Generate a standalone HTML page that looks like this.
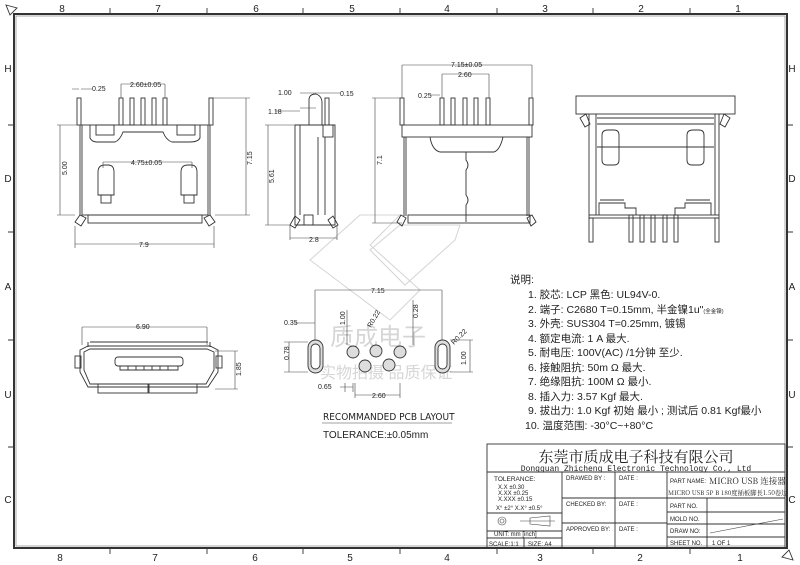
<!DOCTYPE html>
<html><head><meta charset="utf-8"><style>
html,body{margin:0;padding:0;background:#fff;}
svg{display:block;}
text{font-family:"Liberation Sans","Noto Sans CJK SC",sans-serif;fill:#222;}
.s{fill:none;stroke:#333;stroke-width:0.9;}
.t{fill:none;stroke:#444;stroke-width:0.6;}
.d{font-size:7px;}
.n{font-size:10.5px;}
.c{font-size:8px;}
</style></head><body>
<svg width="800" height="565" viewBox="0 0 800 565" xmlns="http://www.w3.org/2000/svg">
<rect x="14" y="14" width="773" height="534" fill="none" stroke="#333" stroke-width="2"/>
<rect x="16" y="16" width="769" height="530" fill="none" stroke="#888" stroke-width="0.7"/>
<path d="M6 5 L17 8 L10 15 Z M793 560 L782 557 L789 550 Z" class="s"/>
<g class="s">
<path d="M110 8V14 M207 8V14 M303 8V14 M400 8V14 M497 8V14 M593 8V14 M690 8V14"/>
<path d="M110 548V554 M207 548V554 M303 548V554 M400 548V554 M497 548V554 M593 548V554 M690 548V554"/>
<path d="M8 125H14 M8 232H14 M8 340H14 M8 447H14 M787 125H793 M787 232H793 M787 340H793 M787 447H793"/>
</g>
<g font-size="10" text-anchor="middle">
<text x="62" y="12">8</text><text x="158" y="12">7</text><text x="256" y="12">6</text><text x="352" y="12">5</text><text x="447" y="12">4</text><text x="545" y="12">3</text><text x="641" y="12">2</text><text x="738" y="12">1</text>
<text x="60" y="561">8</text><text x="155" y="561">7</text><text x="255" y="561">6</text><text x="350" y="561">5</text><text x="447" y="561">4</text><text x="540" y="561">3</text><text x="640" y="561">2</text><text x="740" y="561">1</text>
<text x="8" y="72">H</text><text x="8" y="182">D</text><text x="8" y="290">A</text><text x="8" y="398">U</text><text x="8" y="503">C</text>
<text x="792" y="72">H</text><text x="792" y="182">D</text><text x="792" y="290">A</text><text x="792" y="398">U</text><text x="792" y="503">C</text>
</g>

<!-- watermark -->
<g stroke="#d4d4d4" stroke-width="1" fill="none">
<path d="M310 260 L360 215 L400 215 L370 245 L420 290 L390 320 Z"/>
<path d="M370 250 L400 225 L460 225 L455 240 L405 285 Z"/>
</g>
<text x="330" y="345" font-size="24" style="fill:#d6d6d6">质成电子</text>
<text x="320" y="378" font-size="16" style="fill:#d6d6d6">实物拍摄 品质保证</text>

<!-- view 1 front -->
<g class="s">
<rect x="82" y="125" width="126" height="90"/>
<path d="M80 125V215 M210 125V215"/>
<rect x="77" y="98" width="4" height="27"/><rect x="209" y="98" width="4" height="27"/>
<rect x="119" y="98" width="4" height="27"/><rect x="130" y="98" width="4" height="27"/><rect x="141" y="98" width="4" height="27"/><rect x="152" y="98" width="4" height="27"/><rect x="163" y="98" width="4" height="27"/>
<path d="M90 125V138Q92 142 97 142H115Q120 140 123 132H163Q166 140 172 142H190Q198 142 200 138V125"/>
<rect x="96" y="125" width="18" height="10"/><rect x="177" y="125" width="18" height="10"/>
<path d="M98 195V172Q98 165 105 165H108Q114 165 114 172V195Z M181 195V172Q181 165 188 165H191Q197 165 197 172V195Z"/>
<rect x="101" y="195" width="10" height="8"/><rect x="184" y="195" width="10" height="8"/>
<rect x="88" y="215" width="114" height="8"/>
<path d="M75 222L80 215L86 218L81 226Z M215 222L210 215L204 218L209 226Z"/>
</g>
<g class="t">
<path d="M75 244H214 M75 226V248 M214 226V248 M60 125V215 M57 125H80 M57 215H75 M246 98V215 M213 98H250 M215 215H250 M121 84H165 M121 84V98 M165 84V98 M103 162H192 M103 162V168 M192 162V168 M72 89H79 M81 89H92"/>
</g>
<text class="d" x="130" y="87">2.60±0.05</text>
<text class="d" x="92" y="91">0.25</text>
<text class="d" x="131" y="165">4.75±0.05</text>
<text class="d" x="139" y="247">7.9</text>
<text class="d" transform="translate(67,175) rotate(-90)">5.00</text>
<text class="d" transform="translate(252,165) rotate(-90)">7.15</text>

<!-- view 2 side -->
<g class="s">
<path d="M295 125H335V225H295Z M300 125V215 M318 137V215 M325 137V215"/>
<path d="M309 125V100Q309 94 316 94Q322 96 322 103V125"/>
<rect x="325" y="98" width="4" height="27"/><rect x="323" y="125" width="10" height="12"/>
<rect x="304" y="215" width="9" height="10"/>
<path d="M290 225L295 216L300 220L295 228Z M338 225L333 216L328 220L333 228Z"/>
</g>
<g class="t">
<path d="M290 238H337 M290 225V240 M337 225V240 M268 125V225 M265 125H295 M265 225H290 M300 93H328 M300 108H316 M326 93H340 M275 111H300"/>
</g>
<text class="d" x="278" y="95">1.00</text><text class="d" x="340" y="96">0.15</text><text class="d" x="268" y="114">1.18</text>
<text class="d" x="309" y="242">2.8</text>
<text class="d" transform="translate(274,183) rotate(-90)">5.61</text>

<!-- view 3 -->
<g class="s">
<rect x="402" y="125" width="130" height="12"/>
<path d="M404 137V216 M529 137V216 M406 137V216 M527 137V216"/>
<rect x="400" y="98" width="4" height="27"/><rect x="529" y="98" width="4" height="27"/>
<rect x="440" y="98" width="4" height="27"/><rect x="451" y="98" width="4" height="27"/><rect x="463" y="98" width="4" height="27"/><rect x="474" y="98" width="4" height="27"/><rect x="486" y="98" width="4" height="27"/>
<path d="M430 137Q432 150 440 152H494Q500 150 503 137"/>
<path d="M466 152V160Q470 165 466 170V195Q470 200 466 205V222"/>
<rect x="408" y="215" width="122" height="8"/>
<path d="M397 222L401 215L406 218L402 226Z M536 222L532 215L527 218L531 226Z"/>
</g>
<g class="t">
<path d="M402 65H532 M402 65V98 M532 65V98 M442 74H489 M442 74V98 M489 74V98 M375 98V223 M372 98H402 M372 223H402 M430 95H440"/>
</g>
<text class="d" x="451" y="67">7.15±0.05</text><text class="d" x="458" y="77">2.60</text><text class="d" x="418" y="98">0.25</text>
<text class="d" transform="translate(382,165) rotate(-90)">7.1</text>

<!-- view 4 -->
<g class="s">
<rect x="576" y="96" width="159" height="18"/>
<path d="M589 114V215 M719 114V215 M596 114V215 M715 114V215 M597 118H714 M597 124H714 M597 147H714"/>
<path d="M580 118L586 114L590 124L585 127Z M730 118L724 114L720 124L725 127Z"/>
<path d="M602 135Q602 130 608 130H614Q619 130 619 135V160Q619 165 614 165H607Q602 165 602 160Z M687 135Q687 130 693 130H699Q704 130 704 135V160Q704 165 699 165H692Q687 165 687 160Z"/>
<path d="M599 215V203H625V208H636V215 M711 215V203H685V208H675V215"/>
<path d="M600 200H624 M686 200H710"/>
<rect x="589" y="215" width="130" height="3"/>
<rect x="589" y="218" width="4" height="24"/><rect x="715" y="218" width="4" height="24"/>
<rect x="629" y="215" width="4" height="27"/><rect x="640" y="215" width="4" height="27"/><rect x="651" y="215" width="4" height="27"/><rect x="663" y="215" width="4" height="27"/><rect x="674" y="215" width="4" height="27"/>
</g>

<!-- view 5 end -->
<g class="s">
<path d="M90 342H208 M88 342V347 M210 342V347"/>
<path d="M80 350L88 346H210L218 350V372L208 387H88L80 372Z"/>
<path d="M84 352L90 349H207L214 352V370L206 384H90L84 370Z"/>
<rect x="75" y="356" width="6" height="12"/><rect x="216" y="356" width="6" height="12"/>
<rect x="98" y="384" width="50" height="9"/><rect x="149" y="384" width="48" height="9"/>
<rect x="115" y="357" width="68" height="9" rx="3"/>
<path d="M120 366V370H178V366 M128 366V370 M136 366V370 M144 366V370 M152 366V370 M160 366V370 M168 366V370"/>
</g>
<g class="t"><path d="M82 327H207 M82 327V345 M207 327V345 M235 351V389 M215 351H238 M215 389H238"/></g>
<text class="d" x="136" y="329">6.90</text>
<text class="d" transform="translate(241,376) rotate(-90)">1.85</text>

<!-- PCB -->
<g class="s">
<rect x="308" y="340" width="15" height="33" rx="7.5" style="fill:#ddd"/>
<rect x="311" y="344" width="9" height="25" rx="4.5" style="fill:#fff"/>
<rect x="435" y="340" width="15" height="33" rx="7.5" style="fill:#ddd"/>
<rect x="438" y="344" width="9" height="25" rx="4.5" style="fill:#fff"/>
<circle cx="353" cy="352" r="6" style="fill:#ddd"/><circle cx="376" cy="351" r="6" style="fill:#ddd"/><circle cx="400" cy="352" r="6" style="fill:#ddd"/>
<circle cx="365" cy="366" r="6" style="fill:#ddd"/><circle cx="389" cy="365" r="6" style="fill:#ddd"/>
</g>
<g class="t">
<path d="M315 290H442 M315 290V340 M442 290V340 M295 323H315 M284 342H308 M284 372H308 M289 342V372 M340 387H353 M345 383V392 M353 383V392 M355 395H400 M355 383V398 M400 383V398 M413 300V345 M347 310V345 M470 340V372 M450 340H473 M450 372H473"/>
</g>
<text class="d" x="371" y="293">7.15</text>
<text class="d" x="284" y="325">0.35</text>
<text class="d" transform="translate(289,360) rotate(-90)">0.78</text>
<text class="d" x="318" y="389">0.65</text>
<text class="d" x="372" y="398">2.60</text>
<text class="d" transform="translate(345,325) rotate(-90)">1.00</text>
<text class="d" transform="translate(371,328) rotate(-60)">R0.22</text>
<text class="d" transform="translate(418,318) rotate(-90)">0.28</text>
<text class="d" transform="translate(454,345) rotate(-45)">R0.22</text>
<text class="d" transform="translate(466,365) rotate(-90)">1.00</text>
<text x="323" y="420" font-size="10" style="font-family:'DejaVu Sans Condensed','Liberation Sans',sans-serif">RECOMMANDED  PCB  LAYOUT</text>
<path d="M322 423H452" class="t"/>
<text x="323" y="438" font-size="10">TOLERANCE:±0.05mm</text>

<!-- notes -->
<g class="n">
<text x="510" y="283">说明:</text>
<text x="528" y="298">1. 胶芯:  LCP   黑色: UL94V-0.</text>
<text x="528" y="313">2. 端子:  C2680  T=0.15mm, 半金镍1u"<tspan font-size="5.5">(全金镍)</tspan></text>
<text x="528" y="327">3. 外壳:  SUS304 T=0.25mm, 镀锡</text>
<text x="528" y="342">4. 额定电流: 1 A 最大.</text>
<text x="528" y="356">5. 耐电压: 100V(AC) /1分钟 至少.</text>
<text x="528" y="371">6. 接触阻抗: 50m Ω  最大.</text>
<text x="528" y="385">7. 绝缘阻抗: 100M  Ω  最小.</text>
<text x="528" y="400">8. 插入力: 3.57 Kgf 最大.</text>
<text x="528" y="414">9. 拔出力: 1.0 Kgf 初始  最小 ; 测试后  0.81 Kgf最小</text>
<text x="525" y="429">10. 温度范围: -30°C~+80°C</text>
</g>

<!-- title block -->
<g class="s">
<rect x="487" y="444" width="298" height="104"/>
<path d="M487 472H785 M562 472V548 M615 472V548 M667 472V548 M707 498V548 M667 498H785 M667 512H785 M667 524H785 M667 537H785 M562 498H667 M562 523H667 M487 513H562 M487 531H562 M487 538H562 M524 538V548"/>
<path d="M710 533L783 519" class="t"/>
</g>
<text x="636" y="462" font-size="15" text-anchor="middle" style="font-family:'Noto Serif CJK SC',serif">东莞市质成电子科技有限公司</text>
<text x="636" y="471" font-size="8" text-anchor="middle" style="font-family:'Liberation Mono',monospace">Dongguan Zhicheng Electronic Technology Co., Ltd</text>
<g class="c" style="font-size:6px">
<text x="494" y="481" style="font-size:6.5px">TOLERANCE:</text>
<text x="498" y="489">X.X    ±0.30</text>
<text x="498" y="495">X.XX   ±0.25</text>
<text x="498" y="501">X.XXX  ±0.15</text>
<text x="496" y="510">X° ±2°     X.X° ±0.5°</text>
<text x="494" y="536">UNIT:  mm  [inch]</text>
<text x="489" y="546">SCALE:1:1</text><text x="528" y="546">SIZE: A4</text>
<text x="566" y="480">DRAWED BY :</text><text x="619" y="480">DATE :</text>
<text x="566" y="506">CHECKED BY:</text><text x="619" y="506">DATE :</text>
<text x="566" y="531">APPROVED BY:</text><text x="619" y="531">DATE :</text>
<text x="670" y="483">PART NAME:</text>
<text x="670" y="508">PART NO.</text><text x="670" y="521">MOLD NO.</text><text x="670" y="533">DRAW NO:</text><text x="670" y="545">SHEET NO.</text>
<text x="712" y="545">1 OF 1</text>
</g>
<text x="709" y="484" font-size="8.5" style="font-family:'Noto Serif CJK SC',serif">MICRO USB 连接器</text>
<text x="668" y="495" font-size="6.3" style="font-family:'Noto Serif CJK SC',serif">MICRO USB 5P B 180度插板脚長1.50卷边</text>
<g class="t"><circle cx="502" cy="521" r="4"/><circle cx="502" cy="521" r="2"/><path d="M520 521H555 M530 518L550 516V526L530 524Z"/></g>
</svg>
</body></html>
